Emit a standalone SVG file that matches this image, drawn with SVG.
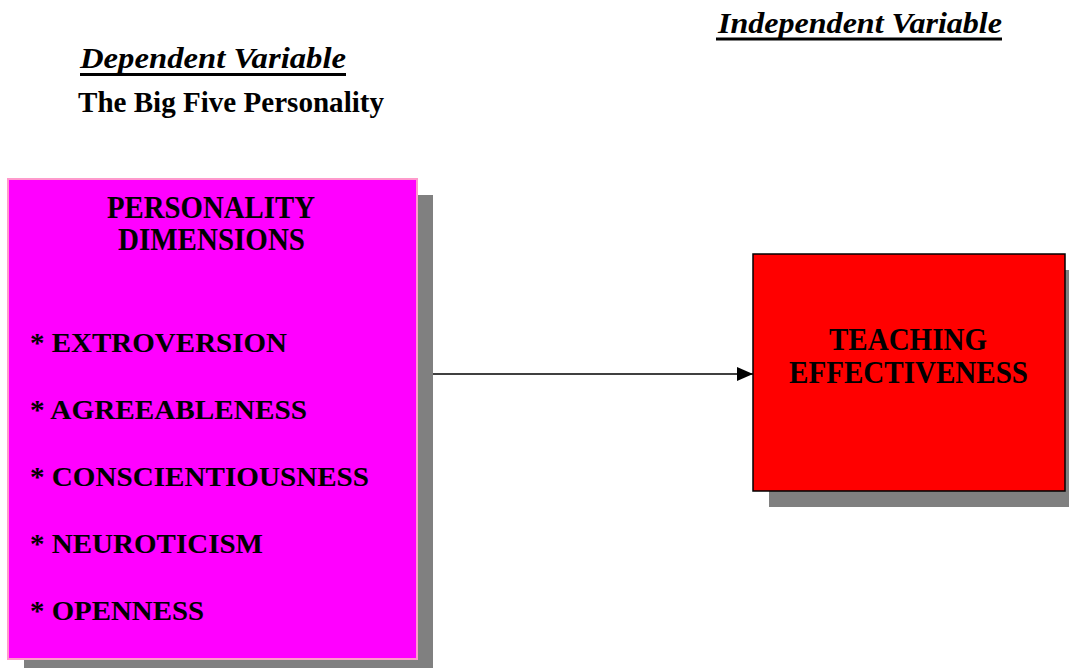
<svg xmlns="http://www.w3.org/2000/svg" width="1069" height="668" viewBox="0 0 1069 668">
<style>
  text { font-family: "Liberation Serif", "Times New Roman", serif; font-weight: bold; fill: #000; }
  .head { font-style: italic; font-size: 29px; }
  .sub { font-size: 30px; }
  .lbl { font-size: 31px; }
  .item { font-size: 28px; }
  .shadow { fill: #808080; }
  .ul { stroke: #000; stroke-width: 3; }
  .conn { stroke: #000; stroke-width: 1.5; fill: none; }
</style>
<defs>
  <marker id="arrow" markerWidth="16" markerHeight="14" refX="16" refY="7" orient="auto" markerUnits="userSpaceOnUse">
    <path d="M0,0 L16,7 L0,14 Z" fill="#000"/>
  </marker>
</defs>
<rect width="1069" height="668" fill="#fff"/>

<g id="header-independent">
  <text class="head" x="718" y="33" textLength="284" lengthAdjust="spacingAndGlyphs">Independent Variable</text>
  <line class="ul" x1="716" y1="39" x2="1002" y2="39"/>
</g>
<g id="header-dependent">
  <text class="head" x="80" y="68" textLength="266" lengthAdjust="spacingAndGlyphs">Dependent Variable</text>
  <line class="ul" x1="80" y1="74.5" x2="346" y2="74.5"/>
  <text class="sub" x="78" y="112" textLength="306" lengthAdjust="spacingAndGlyphs">The Big Five Personality</text>
</g>

<g id="node-personality">
  <rect class="shadow" x="24" y="195" width="409" height="480"/>
  <rect x="8" y="179" width="409" height="480" fill="#ff00ff" stroke="#ff99cc" stroke-width="2"/>
  <text class="lbl" x="107" y="218" textLength="208" lengthAdjust="spacingAndGlyphs">PERSONALITY</text>
  <text class="lbl" x="118" y="250" textLength="187" lengthAdjust="spacingAndGlyphs">DIMENSIONS</text>
  <text class="item" x="30" y="352" textLength="257" lengthAdjust="spacingAndGlyphs">* EXTROVERSION</text>
  <text class="item" x="30" y="419" textLength="277" lengthAdjust="spacingAndGlyphs">* AGREEABLENESS</text>
  <text class="item" x="30" y="486" textLength="339" lengthAdjust="spacingAndGlyphs">* CONSCIENTIOUSNESS</text>
  <text class="item" x="30" y="553" textLength="233" lengthAdjust="spacingAndGlyphs">* NEUROTICISM</text>
  <text class="item" x="30" y="620" textLength="174" lengthAdjust="spacingAndGlyphs">* OPENNESS</text>
</g>

<g id="node-teaching">
  <rect class="shadow" x="769" y="270" width="312" height="237"/>
  <rect x="753" y="254" width="312" height="237" fill="#ff0000" stroke="#000" stroke-width="1.5"/>
  <text class="lbl" x="829" y="350" textLength="158" lengthAdjust="spacingAndGlyphs">TEACHING</text>
  <text class="lbl" x="789" y="383" textLength="239" lengthAdjust="spacingAndGlyphs">EFFECTIVENESS</text>
</g>

<g id="connectors">
  <line class="conn" x1="433" y1="374" x2="753" y2="374" marker-end="url(#arrow)"/>
</g>
</svg>
